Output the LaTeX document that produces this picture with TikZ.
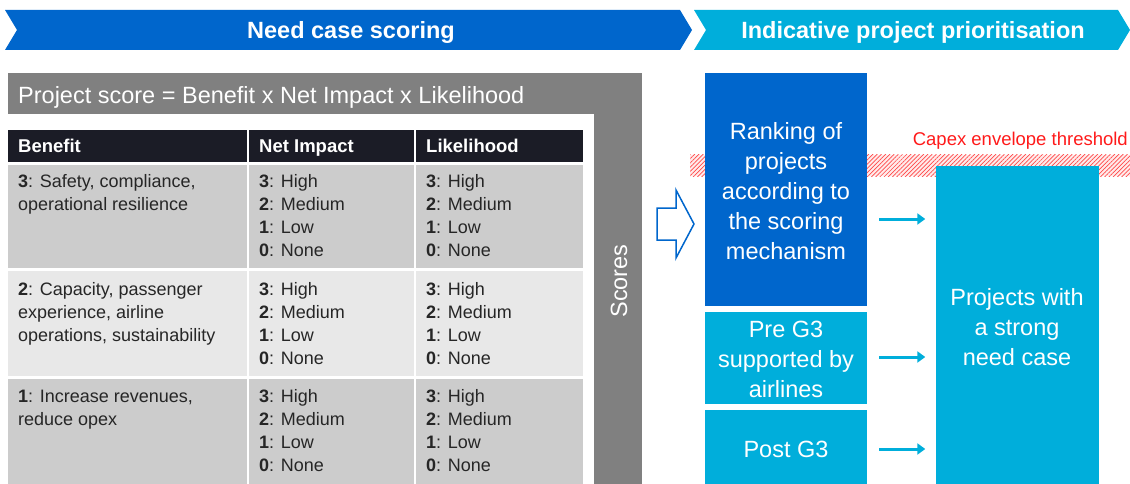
\documentclass[tikz,border=0pt]{standalone}
\usepackage{fontspec}
\setmainfont{Liberation Sans}
\usetikzlibrary{patterns.meta, arrows.meta, calc}
\definecolor{dblue}{HTML}{0066CC}
\definecolor{lblue}{HTML}{00AEDB}
\definecolor{panelgray}{HTML}{808080}
\definecolor{hdrdark}{HTML}{1B1C26}
\definecolor{rowmid}{HTML}{CCCCCC}
\definecolor{rowlight}{HTML}{E8E8E8}
\definecolor{capred}{HTML}{FF1A1A}
\begin{document}
\begin{tikzpicture}[x=1pt, y=-1pt,
  chevtext/.style={text=white, font=\bfseries\fontsize{23.5}{26}\selectfont},
  hdrcell/.style={fill=hdrdark},
  hdrtext/.style={anchor=base west, inner sep=0pt, text=white, font=\bfseries\fontsize{18.5}{22}\selectfont},
  celltext/.style={anchor=north west, inner sep=0pt, align=left, text=black!85, font=\fontsize{18}{23}\selectfont},
  boxtext/.style={text=white, align=center, inner sep=0pt, font=\fontsize{23.5}{30}\selectfont},
  flowarrow/.style={draw=lblue, line width=3pt, -{Triangle[length=8pt, width=11pt]}, shorten <=12pt, shorten >=10pt}
]
\useasboundingbox (0,0) rectangle (1130,484);

% phase chevrons
\fill[dblue] (5,10) -- (680,10) -- (692,30) -- (680,50) -- (5,50) -- (17,30) -- cycle;
\node[chevtext] (phase1) at (351,32) {Need case scoring};
\fill[lblue] (694,10) -- (1118,10) -- (1130,30) -- (1118,50) -- (694,50) -- (706,30) -- cycle;
\node[chevtext] (phase2) at (913,32) {Indicative project prioritisation};

% grey frame around the scoring table
\fill[panelgray] (8,73) rectangle (642,484);
\fill[white] (8,114) rectangle (594,484);
\node[anchor=west, inner sep=0pt, text=white, font=\fontsize{23.5}{28}\selectfont] (formula) at (18,97)
  {Project score = Benefit x Net Impact x Likelihood};
\node[rotate=90, text=white, font=\fontsize{23.5}{28}\selectfont] (scores) at (619,281) {Scores};

% table header
\fill[hdrcell] (8,130) rectangle (247,162);
\fill[hdrcell] (249,130) rectangle (414,162);
\fill[hdrcell] (416,130) rectangle (583,162);
\node[hdrtext] (h1) at (18,152.5) {Benefit};
\node[hdrtext] (h2) at (259,152.5) {Net Impact};
\node[hdrtext] (h3) at (426,152.5) {Likelihood};

% table body
\foreach \ya/\yb/\col in {165/268/rowmid, 271/376/rowlight, 379/484/rowmid}{
  \fill[\col] (8,\ya) rectangle (247,\yb);
  \fill[\col] (249,\ya) rectangle (414,\yb);
  \fill[\col] (416,\ya) rectangle (583,\yb);
}
\newcommand{\levels}{\textbf{3}: High\\\textbf{2}: Medium\\\textbf{1}: Low\\\textbf{0}: None}
\node[celltext] (b3) at (18,174.5) {\textbf{3}: Safety, compliance,\\operational resilience};
\node[celltext] (n3) at (259,174.5) {\levels};
\node[celltext] (l3) at (426,174.5) {\levels};
\node[celltext] (b2) at (18,282.5) {\textbf{2}: Capacity, passenger\\experience, airline\\operations, sustainability};
\node[celltext] (n2) at (259,282.5) {\levels};
\node[celltext] (l2) at (426,282.5) {\levels};
\node[celltext] (b1) at (18,389.5) {\textbf{1}: Increase revenues,\\reduce opex};
\node[celltext] (n1) at (259,389.5) {\levels};
\node[celltext] (l1) at (426,389.5) {\levels};

% capex envelope threshold band
\fill[red!8] (690,155) rectangle (1130,176);
\fill[pattern={Lines[angle=45, distance=3pt, line width=0.7pt]}, pattern color=capred!80] (690,155) rectangle (1130,176);
\node[anchor=east, inner sep=0pt, text=capred, font=\fontsize{18.5}{22}\selectfont] (capex) at (1128,141) {Capex envelope threshold};

% hollow arrow from scores to ranking
\draw[dblue, line width=1.5pt, fill=white, line join=miter]
  (657,208) -- (676,208) -- (676,190) -- (694,224) -- (676,258) -- (676,240) -- (657,240) -- cycle;

% prioritisation boxes
\node[fill=dblue, minimum width=162pt, minimum height=233pt, inner sep=0pt] (rank) at (786,189.5) {};
\node[boxtext] at ([yshift=-2pt]rank.center) {Ranking of\\projects\\according to\\the scoring\\mechanism};
\node[fill=lblue, minimum width=162pt, minimum height=92pt, inner sep=0pt] (pre) at (786,358) {};
\node[boxtext] at ([yshift=-1pt]pre.center) {Pre G3\\supported by\\airlines};
\node[fill=lblue, minimum width=162pt, minimum height=74pt, inner sep=0pt] (post) at (786,447) {};
\node[boxtext] at ([yshift=-2pt]post.center) {Post G3};
\node[fill=lblue, minimum width=163pt, minimum height=318pt, inner sep=0pt] (strong) at (1017,325) {};
\node[boxtext] at ([yshift=-2pt]strong.center) {Projects with\\a strong\\need case};

% connectors
\coordinate (r1) at (0,219);
\coordinate (r2) at (0,357);
\coordinate (r3) at (0,449);
\draw[flowarrow] (rank.east |- r1) -- (strong.west |- r1);
\draw[flowarrow] (pre.east |- r2) -- (strong.west |- r2);
\draw[flowarrow] (post.east |- r3) -- (strong.west |- r3);
\end{tikzpicture}
\end{document}
